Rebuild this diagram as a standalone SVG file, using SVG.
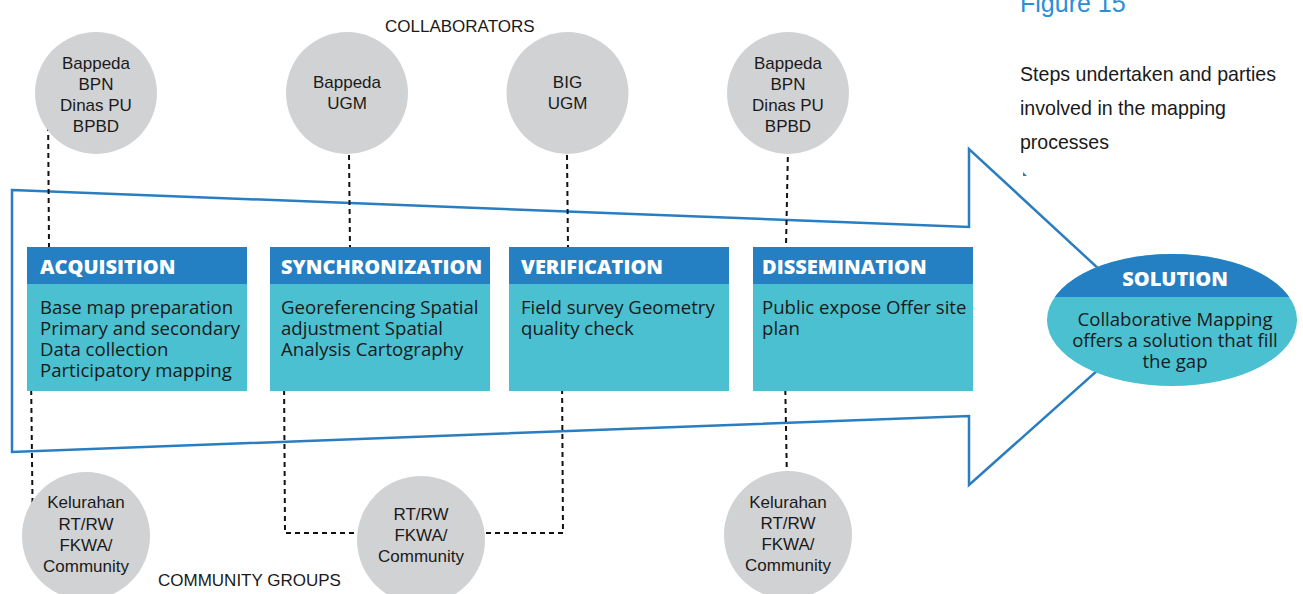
<svg xmlns="http://www.w3.org/2000/svg" width="1303" height="594" viewBox="0 0 1303 594">
<style>
.circ{fill:#d1d2d4}
.ct{font-family:"Liberation Sans",Arial,sans-serif;font-size:17px;fill:#1a1a1a;text-anchor:middle}
.lbl{font-family:"Liberation Sans",Arial,sans-serif;font-size:17px;fill:#1a1a1a}
.hd{fill:#2580c3}
.bd{fill:#4ac0d1}
.ht{font-family:"Open Sans",sans-serif;font-weight:800;font-size:20px;fill:#ffffff}
.bt{font-family:"Open Sans",sans-serif;font-size:18.6px;fill:#1a1a1a}
.dash{fill:none;stroke:#111;stroke-width:2;stroke-dasharray:5 4}
.cap{font-family:"Liberation Sans",Arial,sans-serif;font-size:21px;fill:#1a1a1a}
</style>
<defs>
<clipPath id="solTop"><rect x="1040" y="240" width="260" height="57"/></clipPath>
</defs>
<rect width="1303" height="594" fill="#ffffff"/>

<g id="arrow">
<polygon points="12,190 969,227 969,149 1154,320 969,485 969,416 12,452" fill="none" stroke="#2a7dc1" stroke-width="2.5" stroke-linejoin="miter"/>
<path d="M1023,172 L1023,176 L1027,176 Z" fill="#2a7dc1"/>
</g>

<g id="titles">
<text class="lbl" x="385" y="32">COLLABORATORS</text>
<text class="lbl" x="158" y="586">COMMUNITY GROUPS</text>
<text x="1020" y="12" font-family="Liberation Sans,Arial,sans-serif" font-size="25" fill="#2a8fd4">Figure 15</text>
<text class="cap"><tspan x="1020" y="81" textLength="256" lengthAdjust="spacingAndGlyphs">Steps undertaken and parties</tspan><tspan x="1020" y="115" textLength="206" lengthAdjust="spacingAndGlyphs">involved in the mapping</tspan><tspan x="1020" y="149" textLength="89" lengthAdjust="spacingAndGlyphs">processes</tspan></text>
</g>

<g id="connectors">
<path class="dash" d="M48,108 L49,248"/>
<path class="dash" d="M349,155 L350,247"/>
<path class="dash" d="M567,155 L568,247"/>
<path class="dash" d="M788,148 L786,247"/>
<path class="dash" d="M31,372 L33,545"/>
<path class="dash" d="M284,372 L285,533 L358,533"/>
<path class="dash" d="M477,533 L563,533 L562,372"/>
<path class="dash" d="M785,372 L787,483"/>
</g>

<g id="c-acq">
<circle class="circ" cx="96" cy="93" r="61"/>
<text class="ct"><tspan x="96" y="69">Bappeda</tspan><tspan x="96" y="90">BPN</tspan><tspan x="96" y="111">Dinas PU</tspan><tspan x="96" y="132">BPBD</tspan></text>
</g>
<g id="c-sync">
<circle class="circ" cx="347" cy="93" r="61"/>
<text class="ct"><tspan x="347" y="88">Bappeda</tspan><tspan x="347" y="109">UGM</tspan></text>
</g>
<g id="c-ver">
<circle class="circ" cx="567.5" cy="93" r="61"/>
<text class="ct"><tspan x="567.5" y="88">BIG</tspan><tspan x="567.5" y="109">UGM</tspan></text>
</g>
<g id="c-dis">
<circle class="circ" cx="788" cy="93" r="61"/>
<text class="ct"><tspan x="788" y="69">Bappeda</tspan><tspan x="788" y="90">BPN</tspan><tspan x="788" y="111">Dinas PU</tspan><tspan x="788" y="132">BPBD</tspan></text>
</g>

<g id="acquisition">
<rect class="bd" x="27" y="247" width="220" height="144"/>
<rect class="hd" x="27" y="247" width="220" height="37"/>
<text class="ht" x="40" y="274">ACQUISITION</text>
<text class="bt"><tspan x="40" y="314">Base map preparation</tspan><tspan x="40" y="335">Primary and secondary</tspan><tspan x="40" y="356">Data collection</tspan><tspan x="40" y="377">Participatory mapping</tspan></text>
</g>
<g id="synchronization">
<rect class="bd" x="270" y="247" width="220" height="144"/>
<rect class="hd" x="270" y="247" width="220" height="37"/>
<text class="ht" x="281" y="274">SYNCHRONIZATION</text>
<text class="bt"><tspan x="281" y="314">Georeferencing Spatial</tspan><tspan x="281" y="335">adjustment Spatial</tspan><tspan x="281" y="356">Analysis Cartography</tspan></text>
</g>
<g id="verification">
<rect class="bd" x="509" y="247" width="220" height="144"/>
<rect class="hd" x="509" y="247" width="220" height="37"/>
<text class="ht" x="521" y="274">VERIFICATION</text>
<text class="bt"><tspan x="521" y="314">Field survey Geometry</tspan><tspan x="521" y="335">quality check</tspan></text>
</g>
<g id="dissemination">
<rect class="bd" x="753" y="247" width="220" height="144"/>
<rect class="hd" x="753" y="247" width="220" height="37"/>
<text class="ht" x="762" y="274">DISSEMINATION</text>
<text class="bt"><tspan x="762" y="314">Public expose Offer site</tspan><tspan x="762" y="335">plan</tspan></text>
</g>

<g id="solution">
<ellipse class="bd" cx="1172" cy="320" rx="125" ry="66"/>
<ellipse class="hd" cx="1172" cy="320" rx="125" ry="66" clip-path="url(#solTop)"/>
<text class="ht" x="1175" y="286" text-anchor="middle">SOLUTION</text>
<text class="bt" text-anchor="middle"><tspan x="1175" y="326">Collaborative Mapping</tspan><tspan x="1175" y="347">offers a solution that fill</tspan><tspan x="1175" y="368">the gap</tspan></text>
</g>

<g id="g-acq">
<circle class="circ" cx="86" cy="536" r="64"/>
<text class="ct"><tspan x="86" y="508">Kelurahan</tspan><tspan x="86" y="530">RT/RW</tspan><tspan x="86" y="551">FKWA/</tspan><tspan x="86" y="572">Community</tspan></text>
</g>
<g id="g-mid">
<circle class="circ" cx="421" cy="540" r="64"/>
<text class="ct"><tspan x="421" y="520">RT/RW</tspan><tspan x="421" y="541">FKWA/</tspan><tspan x="421" y="562">Community</tspan></text>
</g>
<g id="g-dis">
<circle class="circ" cx="788" cy="535" r="64"/>
<text class="ct"><tspan x="788" y="508">Kelurahan</tspan><tspan x="788" y="529">RT/RW</tspan><tspan x="788" y="550">FKWA/</tspan><tspan x="788" y="571">Community</tspan></text>
</g>
</svg>
